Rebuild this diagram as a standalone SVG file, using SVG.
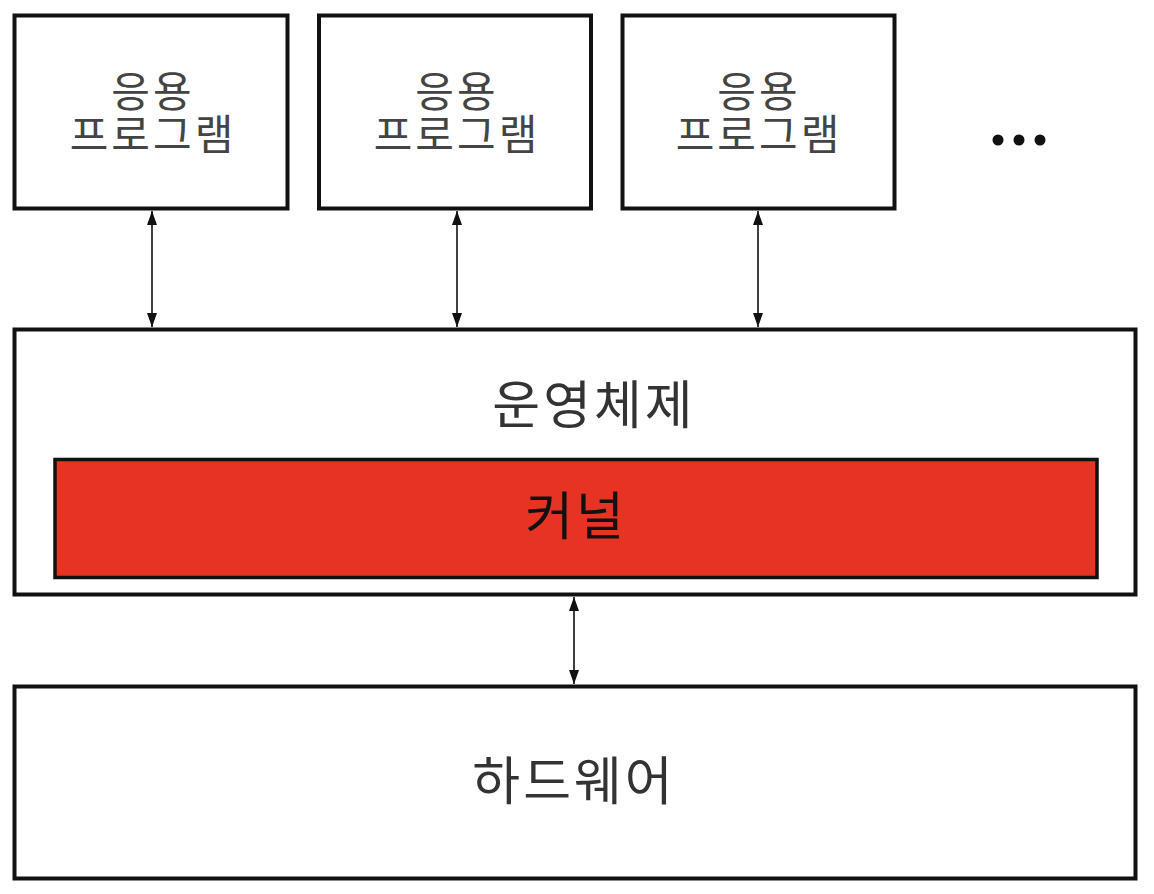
<svg xmlns="http://www.w3.org/2000/svg" width="1154" height="894" viewBox="0 0 1154 894">
<style>
.box{fill:#fff;stroke:#111;stroke-width:4}
.kernel{fill:#E63323;stroke:#111;stroke-width:3.5}
.t{font-family:"Noto Sans CJK KR","Noto Sans",sans-serif;text-anchor:middle;dominant-baseline:central}
.app{font-size:42px;fill:#444;letter-spacing:3px}
.big{font-size:52px;fill:#333;letter-spacing:3px}
.conn{stroke:#111;stroke-width:1.6;fill:none;marker-start:url(#ah);marker-end:url(#ah)}
</style>
<defs>
<marker id="ah" viewBox="0 0 14 10" refX="14" refY="5" markerWidth="14" markerHeight="10" markerUnits="userSpaceOnUse" orient="auto-start-reverse">
<path d="M0,0 L14,5 L0,10 Z" fill="#111"/>
</marker>
</defs>
<rect width="1154" height="894" fill="#fff"/>
<g id="app1">
<rect class="box" x="14.5" y="15.5" width="273" height="193"/>
<text class="t app"><tspan x="153" y="88">응용</tspan><tspan x="153" y="131">프로그램</tspan></text>
</g>
<g id="app2">
<rect class="box" x="319" y="15.5" width="272" height="193"/>
<text class="t app"><tspan x="457" y="88">응용</tspan><tspan x="457" y="131">프로그램</tspan></text>
</g>
<g id="app3">
<rect class="box" x="622.5" y="15.5" width="272" height="193"/>
<text class="t app"><tspan x="759" y="88">응용</tspan><tspan x="759" y="131">프로그램</tspan></text>
</g>
<g id="more">
<circle cx="998" cy="140" r="5.5" fill="#111"/>
<circle cx="1019" cy="140" r="5.5" fill="#111"/>
<circle cx="1040" cy="140" r="5.5" fill="#111"/>
</g>
<g id="os">
<rect class="box" x="14.5" y="329.5" width="1121" height="265"/>
<text class="t big" x="594" y="401">운영체제</text>
</g>
<g id="kernel">
<rect class="kernel" x="55" y="459.5" width="1042" height="118"/>
<text class="t big" x="576" y="512" style="fill:#111">커널</text>
</g>
<g id="hardware">
<rect class="box" x="14.5" y="686.5" width="1121" height="192"/>
<text class="t big" x="574" y="777">하드웨어</text>
</g>
<g id="connectors">
<line class="conn" x1="152" y1="211" x2="152" y2="327"/>
<line class="conn" x1="457" y1="211" x2="457" y2="327"/>
<line class="conn" x1="758" y1="211" x2="758" y2="327"/>
<line class="conn" x1="574" y1="597" x2="574" y2="684"/>
</g>
</svg>
